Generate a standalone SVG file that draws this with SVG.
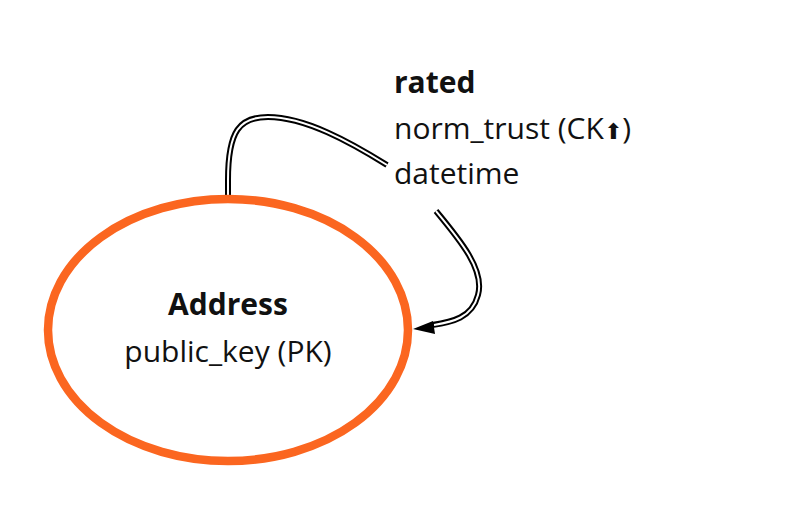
<svg xmlns="http://www.w3.org/2000/svg" width="800" height="511" viewBox="0 0 800 511">
<style>
.t{font-family:"Open Sans","Noto Sans","DejaVu Sans",sans-serif;font-size:30px;fill:#111}
.b{font-weight:bold}
.outer{fill:none;stroke:#000;stroke-width:6}
.inner{fill:none;stroke:#fff;stroke-width:2}
</style>
<rect width="800" height="511" fill="#fff"/>
<g id="connectors">
<path class="outer" d="M228 196 L228 180 C228 130 240 117 268 117 C305 117 350 142 387 165"/>
<path class="inner" d="M228 196 L228 180 C228 130 240 117 268 117 C305 117 350 142 387 165"/>
<path class="outer" d="M436 211 C460 240 485 270 478 295 C472 318 452 322 432 325"/>
<path class="inner" d="M436 211 C460 240 485 270 478 295 C472 318 452 322 434 325"/>
<polygon points="413,329 433,321 435,334" fill="#000"/>
</g>
<g id="rated">
<text class="t b" x="394" y="93">rated</text>
<text class="t" x="394" y="139">norm_trust (CK<tspan font-size="22">⬆</tspan>)</text>
<text class="t" x="394" y="184">datetime</text>
</g>
<g id="address">
<ellipse cx="228" cy="330" rx="180" ry="131" fill="#fff" stroke="#fb6620" stroke-width="8.5"/>
<text class="t b" x="228" y="315" text-anchor="middle">Address</text>
<text class="t" x="228" y="362" text-anchor="middle">public_key (PK)</text>
</g>
</svg>
